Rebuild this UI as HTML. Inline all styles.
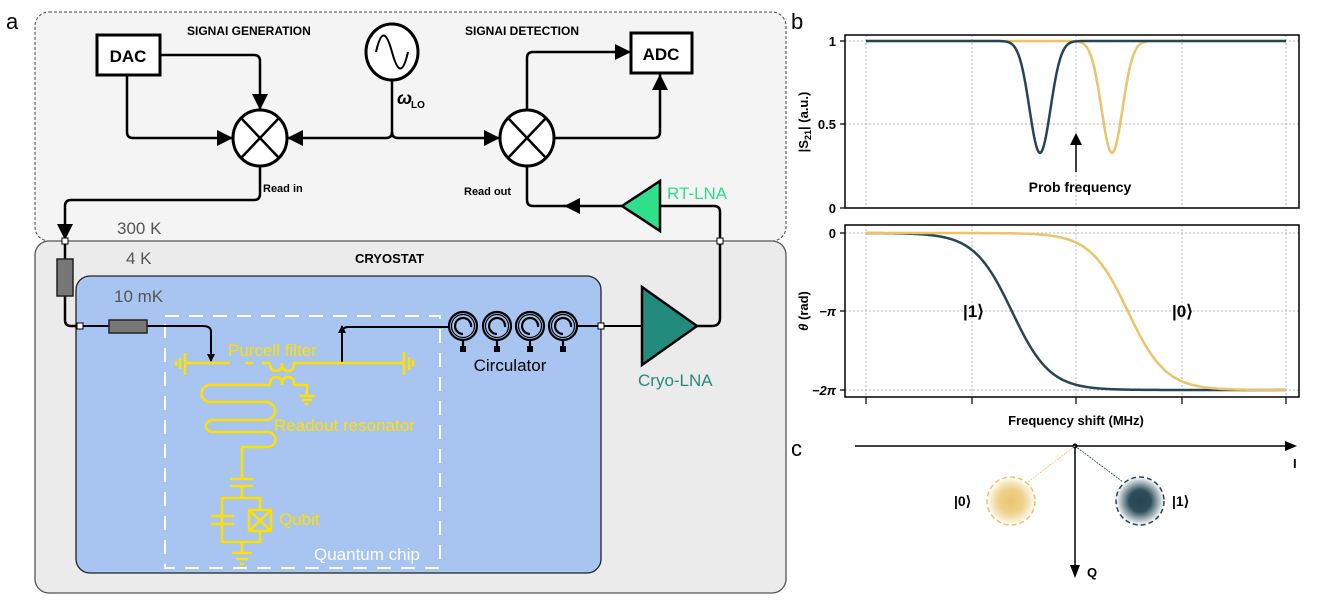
<!DOCTYPE html>
<html><head><meta charset="utf-8"><style>
body{margin:0;background:#fff;}
svg{display:block;font-family:"Liberation Sans",sans-serif;}
.b{font-weight:bold;}
</style></head><body>
<svg width="1329" height="614" viewBox="0 0 1329 614" xmlns="http://www.w3.org/2000/svg">
<defs>
<marker id="ah" markerWidth="16" markerHeight="16" refX="16" refY="8" orient="auto" markerUnits="userSpaceOnUse"><path d="M0,0 L16,8 L0,16z" fill="#000"/></marker>
<marker id="as" markerWidth="8" markerHeight="8" refX="7" refY="4" orient="auto" markerUnits="userSpaceOnUse"><path d="M0,0 L8,4 L0,8z" fill="#000"/></marker>
<radialGradient id="gy"><stop offset="0" stop-color="#e9c46a"/><stop offset="0.5" stop-color="#efd18c"/><stop offset="1" stop-color="#e9c46a" stop-opacity="0"/></radialGradient>
<radialGradient id="gd"><stop offset="0" stop-color="#264653"/><stop offset="0.45" stop-color="#2d4d5b"/><stop offset="1" stop-color="#264653" stop-opacity="0"/></radialGradient>
</defs>
<text x="6" y="29" font-size="22">a</text>
<text x="791" y="29" font-size="22">b</text>
<text x="791" y="456" font-size="22">c</text>

<rect x="35" y="12" width="751" height="229" rx="14" fill="#f4f4f4" stroke="#444" stroke-width="1" stroke-dasharray="3,2"/>
<rect x="35" y="241" width="751" height="352" rx="14" fill="#ebebeb" stroke="#555" stroke-width="1.3"/>
<rect x="76" y="276" width="525" height="297" rx="14" fill="#a8c4f0" stroke="#222" stroke-width="1.3"/>
<rect x="165" y="316" width="275" height="252" fill="none" stroke="#fff" stroke-width="2" stroke-dasharray="14,10"/>

<text x="187" y="35" font-size="12" class="b">SIGNAI GENERATION</text>
<text x="465" y="35" font-size="12" class="b">SIGNAI DETECTION</text>
<text x="355" y="263" font-size="13" class="b">CRYOSTAT</text>
<text x="117" y="234" font-size="17" fill="#555">300 K</text>
<text x="126" y="264" font-size="17" fill="#555">4 K</text>
<text x="114" y="302" font-size="17" fill="#555">10 mK</text>

<rect x="97" y="35" width="63" height="40" fill="#fff" stroke="#000" stroke-width="3"/>
<text x="128" y="62" font-size="17" class="b" text-anchor="middle">DAC</text>
<rect x="631" y="33" width="61" height="40" fill="#fff" stroke="#000" stroke-width="3"/>
<text x="661" y="60" font-size="17" class="b" text-anchor="middle">ADC</text>
<ellipse cx="392" cy="52" rx="26" ry="28" fill="#fff" stroke="#000" stroke-width="3"/>
<path d="M376,52 C381,30 386,30 392,52 C398,74 403,74 408,52" fill="none" stroke="#000" stroke-width="2"/>
<text x="397" y="104" font-size="18" class="b" font-style="italic">ω</text>
<text x="411" y="108" font-size="10" class="b">LO</text>
<g fill="none" stroke="#000" stroke-width="2.5">
<path d="M160,55 H254 Q260,55 260,61 V110" marker-end="url(#ah)"/>
<path d="M127,75 V132 Q127,138 133,138 H233" marker-end="url(#ah)"/>
<path d="M392,80 V132 Q392,138 386,138 H287" marker-end="url(#ah)"/>
<path d="M392,132 Q392,138 398,138 H500" marker-end="url(#ah)"/>
<path d="M527,111 V58 Q527,52 533,52 H631" marker-end="url(#ah)"/>
<path d="M554,138 H654 Q660,138 660,132 V74" marker-end="url(#ah)"/>
<path d="M260,165 V194 Q260,200 254,200 H71 Q65,200 65,206 V240" marker-end="url(#ah)"/>
<path d="M622,206 H564" marker-end="url(#ah)"/>
<path d="M570,206 H533 Q527,206 527,200 V165"/>
<path d="M660,206 H714 Q720,206 720,212 V318 Q720,326 712,326 H697"/>
<path d="M65,241 V320 Q65,326 71,326 H80"/>
<path d="M80,326 H203 Q211,326 211,332 V361" stroke-width="2" marker-end="url(#as)"/>
<path d="M342,363 V333 Q342,327 348,327 H449" stroke-width="2"/>
<path d="M342,363 V326" stroke-width="2" marker-end="url(#as)"/>
<path d="M577,326 H641" stroke-width="2"/>
</g>
<g stroke="#000" stroke-width="3" fill="#fff">
<ellipse cx="260" cy="138" rx="27" ry="28"/>
<ellipse cx="527" cy="138" rx="27" ry="28"/>
</g>
<g stroke="#000" stroke-width="2.5">
<path d="M241,118 L279,158 M279,118 L241,158"/>
<path d="M508,118 L546,158 M546,118 L508,158"/>
</g>
<text x="263" y="192" font-size="11" class="b">Read in</text>
<text x="464" y="195" font-size="11" class="b">Read out</text>
<path d="M622,206 L660,181 L660,231 Z" fill="#2ee08a" stroke="#000" stroke-width="2.5"/>
<text x="667" y="199" font-size="17" fill="#2ee08a">RT-LNA</text>
<path d="M642,287 L697,326 L642,365 Z" fill="#228b7e" stroke="#000" stroke-width="2.5"/>
<text x="638" y="386" font-size="17" fill="#228b7e">Cryo-LNA</text>
<rect x="57" y="259" width="16" height="37" fill="#777" stroke="#222" stroke-width="1.5"/>
<rect x="109" y="320" width="38" height="13" fill="#777" stroke="#222" stroke-width="1.5"/>
<g fill="#fff" stroke="#000" stroke-width="1"><rect x="62" y="238" width="6" height="6"/><rect x="717" y="238" width="6" height="6"/><rect x="77" y="323" width="6" height="6"/><rect x="598" y="323" width="6" height="6"/></g>
<g fill="none" stroke="#000" stroke-width="2.2">
<circle cx="463" cy="326" r="14"/><circle cx="497" cy="326" r="14"/><circle cx="530" cy="326" r="14"/><circle cx="563" cy="326" r="14"/>
<circle cx="463" cy="326" r="11.5" stroke-width="1.2"/><circle cx="497" cy="326" r="11.5" stroke-width="1.2"/><circle cx="530" cy="326" r="11.5" stroke-width="1.2"/><circle cx="563" cy="326" r="11.5" stroke-width="1.2"/>
<path d="M463,334 A8,8 0 1 1 471,327 M497,334 A8,8 0 1 1 505,327 M530,334 A8,8 0 1 1 538,327 M563,334 A8,8 0 1 1 571,327"/>
<path d="M463,340 V346 M497,340 V346 M530,340 V346 M563,340 V346"/>
</g>
<g fill="#000"><rect x="460" y="346" width="6" height="6"/><rect x="494" y="346" width="6" height="6"/><rect x="527" y="346" width="6" height="6"/><rect x="560" y="346" width="6" height="6"/></g>
<text x="510" y="371" font-size="17" text-anchor="middle">Circulator</text>
<g fill="none" stroke="#ffe000" stroke-width="2.5">
<path d="M185,363 H230 M245,363 H253 M262,363 H270"/>
<path d="M270,363 q0,8 6,8 q6,0 6,-8 q0,8 6,8 q6,0 6,-8 H403"/>
<path d="M185,353 V375 M180,358 V369 M176,361 V366"/>
<path d="M404,352 V375 M409,357 V370 M413,360 V367"/>
<path d="M210,385 H270 q0,-8 6,-8 q6,0 6,8 q0,-8 6,-8 q6,0 6,8 H307 V396 M299,396 H315 M302,400 H312 M305,404 H309"/>
<path d="M210,385 A8.5,8.5 0 0 0 210,402 H266 A9,9 0 0 1 266,420 H212 A6,6 0 0 0 212,432 H268 A7.5,7.5 0 0 1 268,447 H242 V479"/>
<path d="M230,479 H253 M230,486 H253 M242,486 V498"/>
<path d="M242,498 H222 V542 H260 V531 M260,510 V498 H242 M222,516 H211 M211,516 H234 M211,524 H234"/>
<rect x="249" y="510" width="22" height="21"/>
<path d="M249,510 L271,531 M271,510 L249,531"/>
<path d="M242,542 V553 M232,553 H252 M236,559 H248 M240,564 H244"/>
</g>
<text x="228" y="356" font-size="17" fill="#ffe000">Purcell filter</text>
<text x="274" y="431" font-size="17" fill="#ffe000">Readout resonator</text>
<text x="279" y="525" font-size="17" fill="#ffe000">Qubit</text>
<text x="314" y="560" font-size="17" fill="#fff">Quantum chip</text>

<g stroke="#999" stroke-width="0.7" stroke-dasharray="2,2">
<path d="M866,35V208 M972,35V208 M1076,35V208 M1182,35V208 M1286,35V208 M845,41H1299 M845,124H1299"/>
<path d="M866,225V397 M972,225V397 M1076,225V397 M1182,225V397 M1286,225V397 M845,233H1299 M845,311H1299 M845,390H1299"/>
</g>
<path id="s0" d="" fill="none" stroke="#e9c46a" stroke-width="2.5"/>
<path id="s1" d="" fill="none" stroke="#264653" stroke-width="2.5"/>
<path id="p1" d="" fill="none" stroke="#264653" stroke-width="2.5"/>
<path id="p0" d="" fill="none" stroke="#e9c46a" stroke-width="2.5"/>
<rect x="845" y="35" width="454" height="173" fill="none" stroke="#000" stroke-width="1.5"/>
<rect x="845" y="225" width="454" height="172" fill="none" stroke="#000" stroke-width="1.5"/>
<g stroke="#000" stroke-width="1.2"><path d="M840,41H845 M840,124H845 M840,208H845 M840,233H845 M840,311H845 M840,390H845 M866,397V404 M972,397V404 M1076,397V404 M1182,397V404 M1286,397V404"/></g>
<g font-size="13" class="b" text-anchor="end">
<text x="836" y="46">1</text><text x="836" y="129">0.5</text><text x="836" y="213">0</text>
<text x="836" y="238">0</text><text x="836" y="316" font-style="italic">−π</text><text x="836" y="395" font-style="italic">−2π</text>
</g>
<text transform="translate(808,122) rotate(-90)" font-size="13" class="b" text-anchor="middle">|S<tspan font-size="9" dy="3">21</tspan><tspan dy="-3">| (a.u.)</tspan></text>
<text transform="translate(808,311) rotate(-90)" font-size="13" class="b" text-anchor="middle"><tspan font-style="italic">θ</tspan> (rad)</text>
<text x="1076" y="425" font-size="13" class="b" text-anchor="middle">Frequency shift (MHz)</text>
<path d="M1076,172 V142" stroke="#000" stroke-width="1.5"/>
<path d="M1070,145 L1076,133 L1082,145Z" fill="#000"/>
<text x="1080" y="192" font-size="14" class="b" text-anchor="middle">Prob frequency</text>
<text x="963" y="317" font-size="17" class="b">|1⟩</text>
<text x="1172" y="317" font-size="17" class="b">|0⟩</text>

<path d="M855,446 H1285" stroke="#000" stroke-width="1.5"/>
<path d="M1285,441 L1297,446 L1285,451Z" fill="#000"/>
<text x="1293" y="468" font-size="13" class="b">I</text>
<path d="M1075,446 V566" stroke="#000" stroke-width="1.5"/>
<path d="M1070,565 L1075,578 L1080,565Z" fill="#000"/>
<text x="1087" y="577" font-size="13" class="b">Q</text>
<circle cx="1075" cy="446" r="2.5" fill="#000"/>
<path d="M1075,446 L1028,482" stroke="#e9c46a" stroke-width="0.8" stroke-dasharray="2,1"/>
<path d="M1075,446 L1123,482" stroke="#264653" stroke-width="0.8" stroke-dasharray="2,1"/>
<circle cx="1011" cy="501" r="24" fill="url(#gy)" stroke="#e9c46a" stroke-width="1.5" stroke-dasharray="5,3"/>
<circle cx="1140" cy="501" r="24" fill="url(#gd)" stroke="#264653" stroke-width="1.5" stroke-dasharray="5,3"/>
<text x="954" y="506" font-size="14" class="b">|0⟩</text>
<text x="1172" y="506" font-size="14" class="b">|1⟩</text>
</svg>
<script>
function mk(f){var d="";for(var x=866;x<=1286;x+=1){d+=(x==866?"M":"L")+x+","+f(x).toFixed(2);}return d;}
function dip(c){return function(x){var v=1-0.67*Math.exp(-Math.pow((x-c)/10.5,2)/2);return 208-v*167;};}
function ph(c){return function(x){var t=-2*Math.PI/(1+Math.exp(-(x-c)/19));return 233+(t/(-2*Math.PI))*157;};}
document.getElementById("s1").setAttribute("d",mk(dip(1040)));
document.getElementById("s0").setAttribute("d",mk(dip(1112)));
document.getElementById("p1").setAttribute("d",mk(ph(1012)));
document.getElementById("p0").setAttribute("d",mk(ph(1128)));
</script>
</body></html>
